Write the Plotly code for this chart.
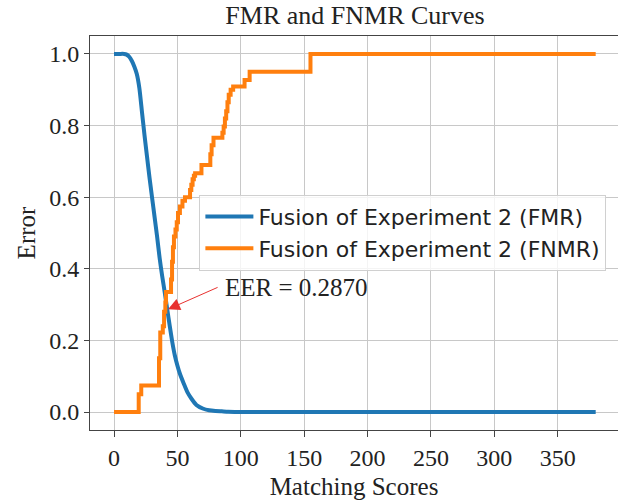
import plotly.graph_objects as go

# FMR curve (smooth)
fmr_x = [0, 4, 8, 10, 12, 14, 16, 18, 20, 22, 24, 26, 28, 30, 32, 34, 36, 38, 40, 42,
         44, 46, 48, 50, 52, 55, 58, 61, 65, 70, 75, 80, 85, 90, 100, 110, 130, 200, 300, 380]
fmr_y = [1.0, 1.0, 1.0, 0.998, 0.992, 0.981, 0.965, 0.944, 0.905, 0.84, 0.775, 0.715,
         0.655, 0.6, 0.545, 0.49, 0.43, 0.38, 0.335, 0.287, 0.24, 0.195, 0.158, 0.13,
         0.107, 0.08, 0.055, 0.038, 0.02, 0.01, 0.005, 0.003, 0.002, 0.001, 0.0, 0.0,
         0.0, 0.0, 0.0, 0.0]

# FNMR curve (step)
fnmr_x = [0, 19.5, 21.5, 35.5, 36.5, 38.5, 39.5, 40.5, 41, 45, 45.8, 46.5, 47.3, 48.5,
          49.5, 50.5, 52, 54, 56, 60, 61, 62, 63, 64, 69, 76, 77, 78.5, 85.5, 86.5,
          87.5, 88.5, 89.5, 90.5, 92, 94, 103, 107, 155, 380]
fnmr_y = [0.0, 0.05, 0.074, 0.15, 0.222, 0.24, 0.28, 0.306, 0.335, 0.37, 0.42, 0.46,
          0.49, 0.51, 0.53, 0.556, 0.574, 0.59, 0.6, 0.62, 0.635, 0.65, 0.66, 0.667,
          0.69, 0.72, 0.745, 0.766, 0.78, 0.797, 0.82, 0.84, 0.865, 0.886, 0.9, 0.909,
          0.927, 0.95, 1.0, 1.0]

eer_x = 42.6
eer_y = 0.287
eer_label = "EER = 0.2870"
label_x = 86.0
label_y = 0.347
tail_x = 82.9
tail_y = 0.350

x_ticks = [0, 50, 100, 150, 200, 250, 300, 350]
y_ticks = [0.0, 0.2, 0.4, 0.6, 0.8, 1.0]

serif = "Liberation Serif, Times New Roman, serif"

fig = go.Figure()
fig.add_trace(go.Scatter(x=fmr_x, y=fmr_y, mode="lines", line=dict(color="#1f77b4", width=4, shape="spline", smoothing=0.6),
                         name="Fusion of Experiment 2 (FMR)"))
fig.add_trace(go.Scatter(x=fnmr_x, y=fnmr_y, mode="lines", line=dict(color="#ff7f0e", width=4, shape="hv"),
                         name="Fusion of Experiment 2 (FNMR)"))

fig.add_annotation(x=eer_x, y=eer_y, ax=tail_x, ay=tail_y, axref="x", ayref="y", xref="x", yref="y",
                   text="", showarrow=True, arrowhead=2, arrowsize=2.4, arrowwidth=1, arrowcolor="#e8312f", standoff=0)
fig.add_annotation(x=label_x, y=label_y, xref="x", yref="y", text=eer_label, showarrow=False,
                   xanchor="left", yanchor="middle", font=dict(family=serif, size=25, color="#222"))

fig.update_layout(
    width=618, height=500,
    margin=dict(l=90, r=0, t=36, b=70),
    paper_bgcolor="white", plot_bgcolor="white",
    title=dict(text="FMR and FNMR Curves", font=dict(family=serif, size=26, color="#222"),
               x=(90 + 620) / 2 / 618, xanchor="center", y=1 - 15 / 500, yanchor="middle", yref="container"),
    legend=dict(x=0.978, y=0.597, xanchor="right", yanchor="top",
                bgcolor="rgba(255,255,255,0.8)", bordercolor="#d0d0d0", borderwidth=1,
                font=dict(family="DejaVu Sans", size=22, color="#222"), itemwidth=48),
    showlegend=True,
)
fig.update_xaxes(range=[-18.93, 397.6], tickvals=x_ticks, ticktext=[str(v) for v in x_ticks],
                 showgrid=True, gridcolor="#c8c8c8", gridwidth=1, zeroline=False,
                 showline=True, linecolor="#444", linewidth=1, mirror=True,
                 ticks="outside", ticklen=6, tickcolor="#444",
                 tickfont=dict(family=serif, size=24, color="#222"),
                 title=dict(text="Matching Scores", font=dict(family=serif, size=25, color="#222"), standoff=7))
fig.update_yaxes(range=[-0.05, 1.05], tickvals=y_ticks, ticktext=["%.1f" % v for v in y_ticks],
                 showgrid=True, gridcolor="#c8c8c8", gridwidth=1, zeroline=False,
                 showline=True, linecolor="#444", linewidth=1,
                 ticks="outside", ticklen=5, tickcolor="#444",
                 tickfont=dict(family=serif, size=24, color="#222"),
                 title=dict(text="Error", font=dict(family=serif, size=25, color="#222"), standoff=6))

fig.write_html("out.html", config={"displayModeBar": False},
               post_script="document.body.style.margin='0';")
